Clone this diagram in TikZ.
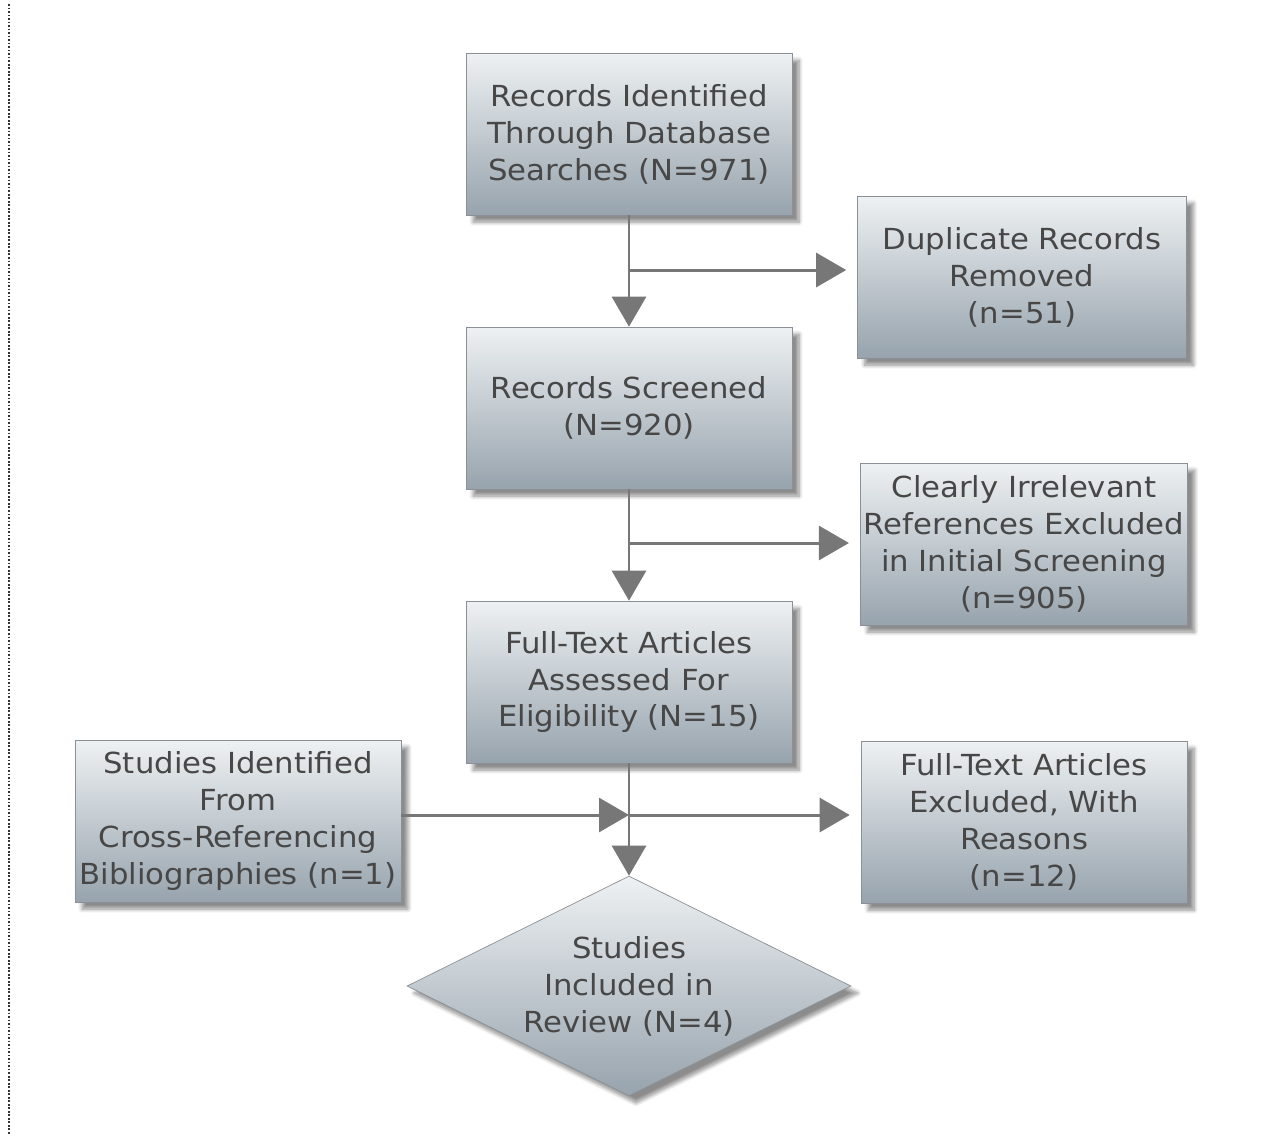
\documentclass[tikz,border=0pt]{standalone}
\usepackage{fontspec}
\setmainfont{DejaVu Sans}[FakeStretch=1.06]
\usepackage{tikz}
\usetikzlibrary{
  positioning,
  arrows.meta,
  shapes.geometric,
  shadows.blur,
  calc
}
\definecolor{boxtop}{HTML}{EEF1F3}
\definecolor{boxbottom}{HTML}{97A3AD}
\definecolor{boxline}{HTML}{8A9096}
\definecolor{flowline}{HTML}{777777}
\definecolor{labeltext}{HTML}{474747}

\begin{document}
\begin{tikzpicture}[
  x=0.02cm, y=-0.02cm,
  font=\fontsize{16.5}{21}\selectfont,
  stagebox/.style={
    rectangle,
    draw=boxline,
    thin,
    top color=boxtop,
    bottom color=boxbottom,
    minimum width=6.52cm,
    minimum height=3.24cm,
    align=center,
    inner sep=2pt,
    text=labeltext,
    blur shadow={shadow xshift=4pt, shadow yshift=-4pt, shadow blur steps=8, shadow opacity=45}
  },
  decision/.style={
    diamond,
    aspect=2,
    draw=boxline,
    thin,
    top color=boxtop,
    bottom color=boxbottom,
    minimum width=8.88cm,
    minimum height=4.4cm,
    inner sep=0pt,
    align=center,
    text=labeltext,
    blur shadow={shadow xshift=4pt, shadow yshift=-4pt, shadow blur steps=8, shadow opacity=45}
  },
  flow/.style={
    draw=flowline,
    line width=1.7pt,
    -{Triangle[length=0.6cm, width=0.68cm]}
  },
  sideflow/.style={
    flow,
    shorten >=0.22cm
  }
]

% page frame
\useasboundingbox (0,0) rectangle (1276,1144);
\draw[densely dotted, line width=1pt, black!80] (9,4) -- (9,1134);

% Main column (x = 629)
\node[stagebox] (records) at (629,134) {Records Identified\\Through Database\\Searches (N=971)};
\node[stagebox] (screened) at (629,408) {Records Screened\\(N=920)};
\node[stagebox] (fulltext) at (629,682) {Full-Text Articles\\Assessed For\\Eligibility (N=15)};
\node[decision] (included) at (629,986) {Studies\\Included in\\Review (N=4)};

% Side boxes
\node[stagebox, minimum width=6.58cm] (duplicates) at (1022,277) {Duplicate Records\\Removed\\(n=51)};
\node[stagebox] (irrelevant) at (1024,544) {Clearly Irrelevant\\References Excluded\\in Initial Screening\\(n=905)};
\node[stagebox] (excluded) at (1024,822) {Full-Text Articles\\Excluded, With\\Reasons\\(n=12)};
\node[stagebox] (crossref) at (238,821) {Studies Identified\\From\\Cross-Referencing\\Bibliographies (n=1)};

% Branch points
\coordinate (split1) at (629,270);
\coordinate (split2) at (629,543);
\coordinate (split3) at (629,815);

% Connectors
\draw[flow] (records) -- (screened);
\draw[sideflow] (split1) -- (split1 -| duplicates.west);
\draw[flow] (screened) -- (fulltext);
\draw[sideflow] (split2) -- (split2 -| irrelevant.west);
\draw[flow] (fulltext) -- (included.north);
\draw[sideflow] (split3) -- (split3 -| excluded.west);
\draw[flow] (crossref.east |- split3) -- (split3);

\end{tikzpicture}
\end{document}
